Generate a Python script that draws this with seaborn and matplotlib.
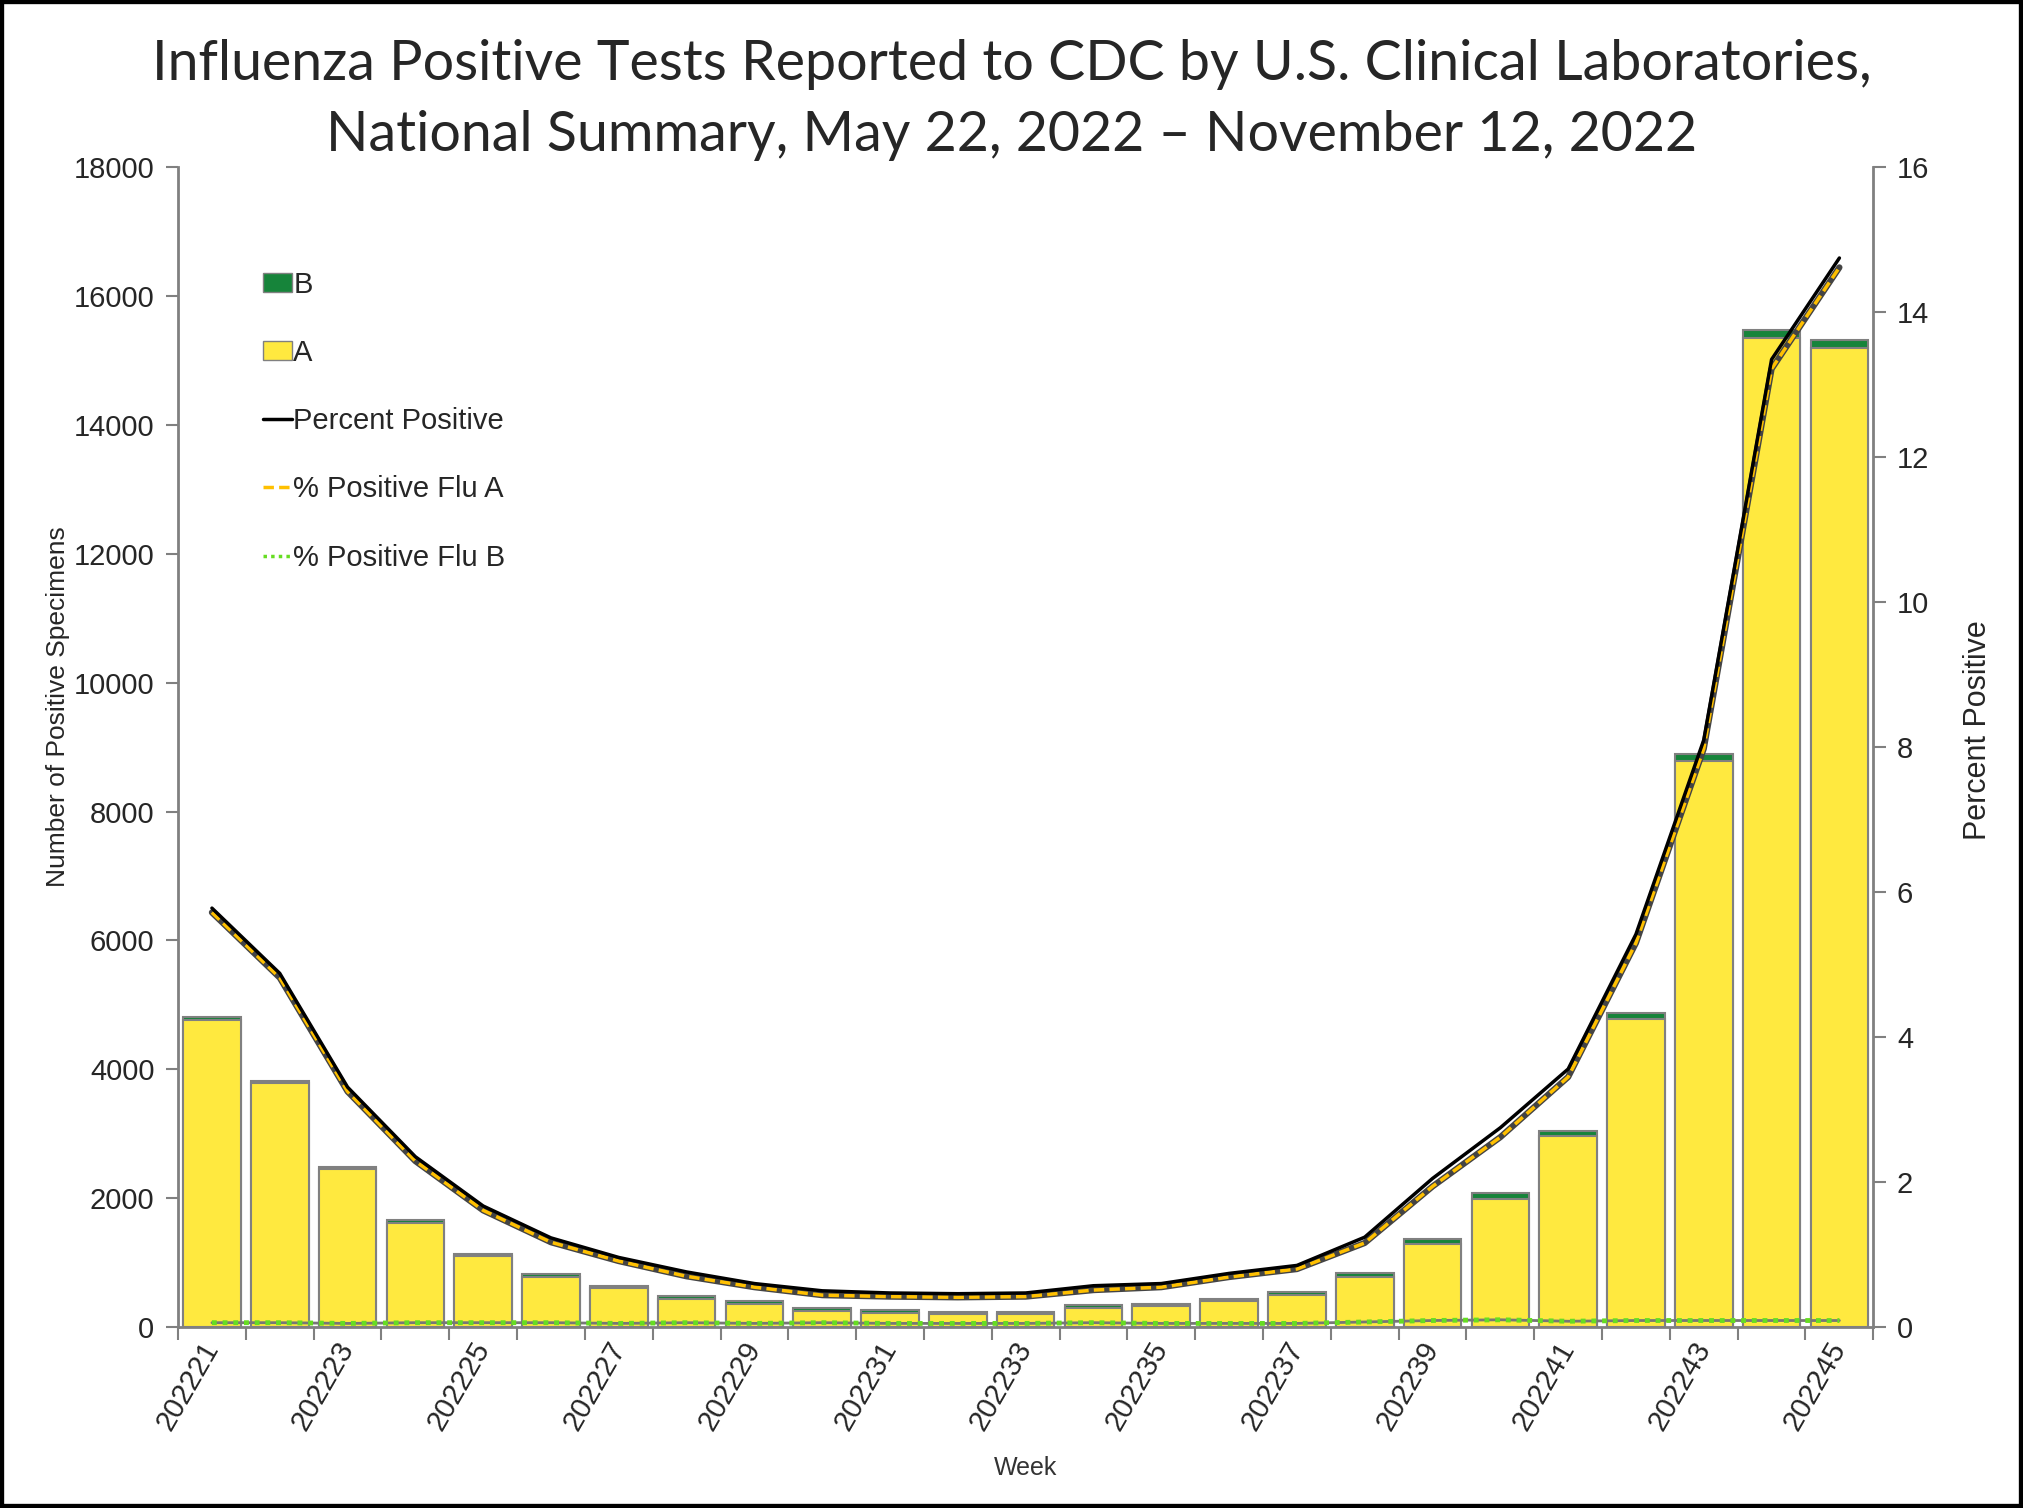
import numpy as np
import matplotlib
matplotlib.use('Agg')
import matplotlib.pyplot as plt
import seaborn as sns
from matplotlib.patches import Patch, Rectangle
from matplotlib.lines import Line2D

# weekly data
weeks = [str(w) for w in range(202221, 202246)]
flu_a = [4765, 3784, 2447, 1617, 1096, 771, 605, 430, 360, 255, 225, 210, 205,
         295, 320, 405, 500, 780, 1285, 1990, 2960, 4785, 8780, 15350, 15195]
flu_b = [40, 40, 35, 45, 45, 50, 35, 50, 40, 45, 35, 30, 35,
         45, 40, 35, 40, 60, 75, 90, 80, 95, 120, 130, 125]
pct_total = [5.78, 4.88, 3.31, 2.35, 1.67, 1.23, 0.96, 0.76, 0.60, 0.50, 0.47, 0.46, 0.47,
             0.57, 0.60, 0.74, 0.85, 1.24, 2.05, 2.75, 3.56, 5.42, 8.10, 13.35, 14.75]
pct_a = [5.72, 4.82, 3.25, 2.29, 1.61, 1.17, 0.91, 0.70, 0.55, 0.44, 0.42, 0.41, 0.42,
         0.51, 0.55, 0.69, 0.80, 1.16, 1.94, 2.62, 3.45, 5.30, 7.98, 13.22, 14.62]
pct_b = [0.06, 0.06, 0.05, 0.06, 0.06, 0.06, 0.05, 0.06, 0.05, 0.06, 0.05, 0.05, 0.05,
         0.06, 0.05, 0.05, 0.05, 0.07, 0.09, 0.10, 0.08, 0.09, 0.09, 0.09, 0.09]

yellow = '#FFE93F'
green = '#16843A'
gray = '#808080'

sns.set_style('ticks')
plt.rcParams['font.family'] = ['Liberation Sans', 'DejaVu Sans']

fig = plt.figure(figsize=(20.23, 15.08), dpi=100)
ax = fig.add_axes([0.088, 0.12, 0.838, 0.769])

# stacked bars: total in green, A drawn over it in yellow
total = np.add(flu_a, flu_b)
sns.barplot(x=weeks, y=total, color=green, saturation=1, width=0.85,
            edgecolor=gray, linewidth=1.5, ax=ax)
sns.barplot(x=weeks, y=flu_a, color=yellow, saturation=1, width=0.85,
            edgecolor=gray, linewidth=1.5, ax=ax)

ax.set_xlim(-0.5, len(weeks) - 0.5)
ax.set_ylim(0, 18000)
ax.set_yticks(range(0, 18001, 2000))
ax.tick_params(axis='y', labelsize=21, length=9, width=1.5, color=gray, pad=8)
ax.set_xticks(range(0, len(weeks), 2))
ax.set_xticklabels(weeks[::2], rotation=60, ha='right', va='center',
                   rotation_mode='anchor', fontsize=21)
ax.set_xticks(np.arange(-0.5, len(weeks), 1), minor=True)
ax.tick_params(axis='x', which='major', length=0, pad=12)
ax.tick_params(axis='x', which='minor', length=9, width=1.5, color=gray)
ax.set_xlabel('Week', fontsize=18, color='#333333', labelpad=15)
ax.set_ylabel('Number of Positive Specimens', fontsize=19)
ax.yaxis.set_label_coords(-0.064, 0.535)
for s in ['top', 'right']:
    ax.spines[s].set_visible(False)
for s in ['left', 'bottom']:
    ax.spines[s].set_color(gray)
    ax.spines[s].set_linewidth(2)

# percent positive lines on the right axis
ax2 = ax.twinx()
pos = np.arange(len(weeks))
sns.lineplot(x=pos, y=pct_b, ax=ax2, color='#777777', lw=2)
sns.lineplot(x=pos, y=pct_b, ax=ax2, color='#66DD22', lw=3.5,
             linestyle=(0, (1, 1.2)))
sns.lineplot(x=pos, y=pct_a, ax=ax2, color='#444444', lw=4.5)
sns.lineplot(x=pos, y=pct_a, ax=ax2, color='#FFC000', lw=2.5,
             linestyle=(0, (3, 1.5)))
sns.lineplot(x=pos, y=pct_total, ax=ax2, color='black', lw=2.5)
ax2.set_ylim(0, 16)
ax2.set_yticks(range(0, 17, 2))
ax2.tick_params(axis='y', labelsize=21, length=9, width=1.5, color=gray, pad=8)
ax2.set_ylabel('Percent Positive', fontsize=22)
ax2.yaxis.set_label_coords(1.053, 0.515)
for s in ['top', 'left', 'bottom']:
    ax2.spines[s].set_visible(False)
ax2.spines['right'].set_color(gray)
ax2.spines['right'].set_linewidth(2)

handles = [
    Patch(facecolor=green, edgecolor=gray, linewidth=1),
    Patch(facecolor=yellow, edgecolor=gray, linewidth=1),
    Line2D([], [], color='black', lw=2.5),
    Line2D([], [], color='#FFC000', lw=2.5, linestyle=(0, (3, 1.5))),
    Line2D([], [], color='#66DD22', lw=2.5, linestyle=(0, (1, 1.2))),
]
labels = ['B', 'A', 'Percent Positive', '% Positive Flu A', '% Positive Flu B']
ax2.legend(handles, labels, loc='upper left', bbox_to_anchor=(0.043, 0.921),
           frameon=False, fontsize=21, labelspacing=1.38, handlelength=1.0,
           handleheight=0.65, handletextpad=0.05, borderaxespad=0)

fig.text(0.5, 0.957, 'Influenza Positive Tests Reported to CDC by U.S. Clinical Laboratories,',
         ha='center', va='center', fontsize=40, family=['Lato', 'DejaVu Sans'])
fig.text(0.5, 0.91, 'National Summary, May 22, 2022 \u2013 November 12, 2022',
         ha='center', va='center', fontsize=40, family=['Lato', 'DejaVu Sans'])

fig.add_artist(Rectangle((0, 0), 1, 1, transform=fig.transFigure, fill=False,
                         edgecolor='black', lw=6))

fig.savefig('out.png', dpi=100)
